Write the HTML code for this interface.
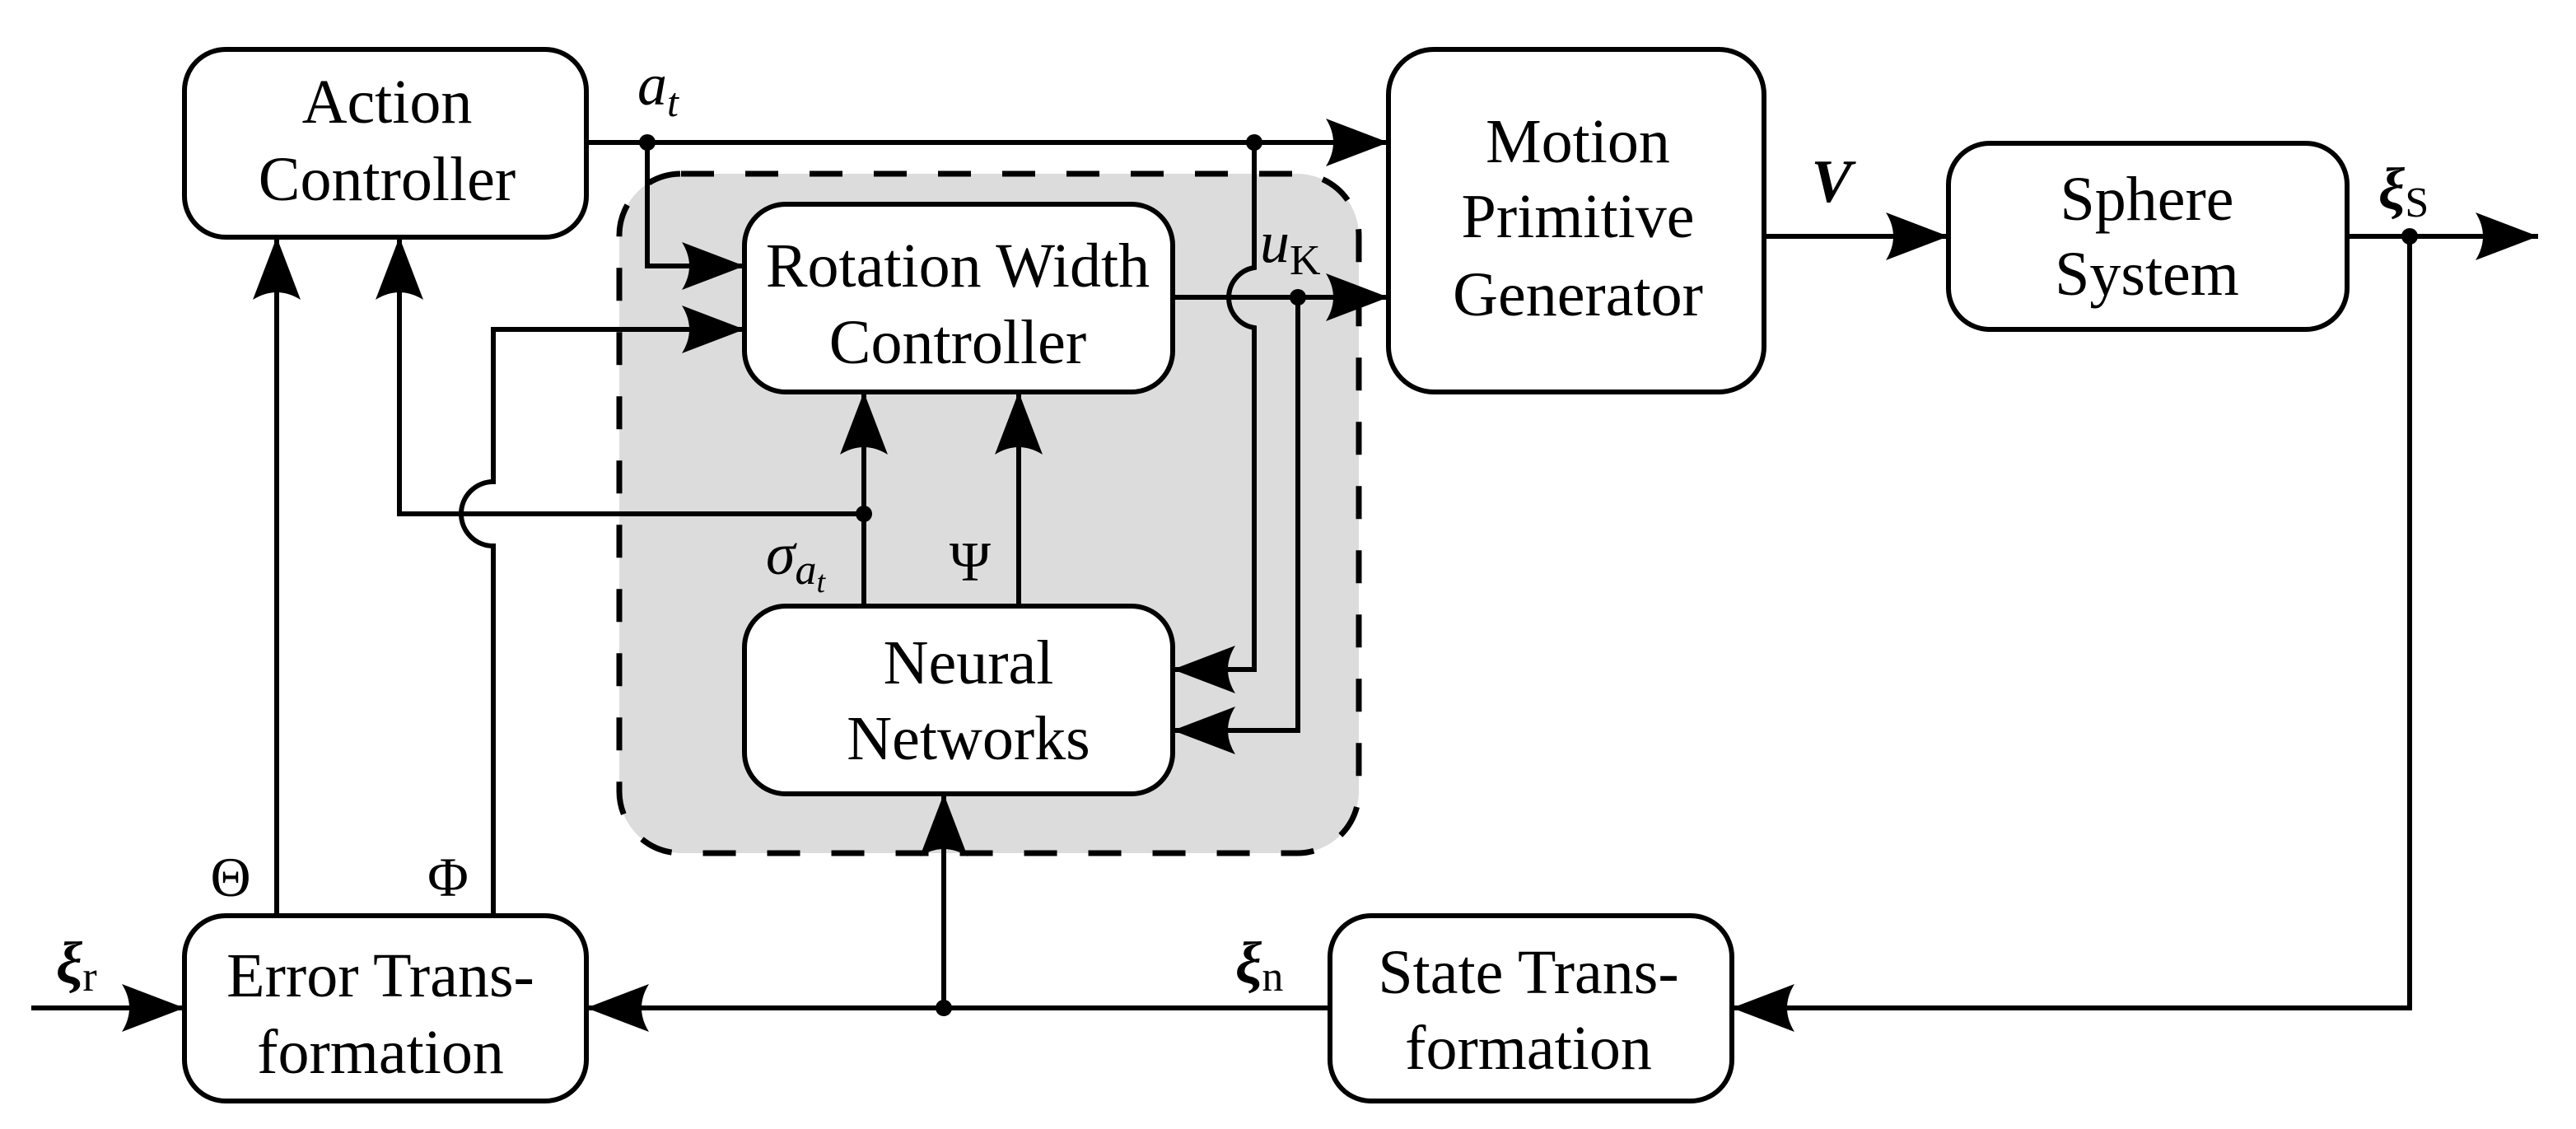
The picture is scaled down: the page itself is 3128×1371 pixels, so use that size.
<!DOCTYPE html>
<html><head><meta charset="utf-8"><style>
html,body{margin:0;padding:0;background:#fff;}
svg{display:block;}
svg text{font-family:"Liberation Serif","Noto Serif CJK SC","DejaVu Serif",serif;fill:#000;}
.t{font-size:76px;text-anchor:middle;}
.m{font-size:72px;font-style:italic;}
</style></head><body>
<svg width="3128" height="1371" viewBox="0 0 3128 1371" xmlns="http://www.w3.org/2000/svg">
<defs>
<marker id="a" markerUnits="userSpaceOnUse" markerWidth="90" markerHeight="80" viewBox="-80 -40 90 80" refX="0" refY="0" orient="auto">
<path d="M0,0 L-76,-29 Q-58,0 -76,29 Z" fill="#000"/>
</marker>
</defs>
<rect x="752" y="211" width="898" height="825" rx="75" fill="#dcdcdc" stroke="#000" stroke-width="7" stroke-dasharray="40,38"/>

<g fill="none" stroke="#000" stroke-width="6">
<rect x="224" y="60" width="488" height="228" rx="50" fill="#fff"/>
<rect x="1686" y="60" width="456" height="416" rx="55" fill="#fff"/>
<rect x="2366" y="174" width="484" height="226" rx="50" fill="#fff"/>
<rect x="904" y="248" width="520" height="228" rx="50" fill="#fff"/>
<rect x="904" y="736" width="520" height="228" rx="50" fill="#fff"/>
<rect x="224" y="1112" width="488" height="225" rx="50" fill="#fff"/>
<rect x="1615" y="1112" width="488" height="225" rx="50" fill="#fff"/>

<path d="M712,173 H1686" marker-end="url(#a)"/>
<path d="M786,173 V323 H904" marker-end="url(#a)"/>
<path d="M1523,173 V325 A37,37 0 0 0 1523,398 V813 H1424" marker-end="url(#a)"/>
<path d="M1424,361 H1686" marker-end="url(#a)"/>
<path d="M1576,361 V887 H1424" marker-end="url(#a)"/>
<path d="M2142,287 H2366" marker-end="url(#a)"/>
<path d="M2850,287 H3082" marker-end="url(#a)"/>
<path d="M2926,287 V1224 H2103" marker-end="url(#a)"/>
<path d="M1615,1224 H712" marker-end="url(#a)"/>
<path d="M1146,1224 V964" marker-end="url(#a)"/>
<path d="M38,1224 H224" marker-end="url(#a)"/>
<path d="M336,1112 V288" marker-end="url(#a)"/>
<path d="M599,1112 V663 A39,39 0 0 1 599,585 V400 H904" marker-end="url(#a)"/>
<path d="M1049,736 V476" marker-end="url(#a)"/>
<path d="M1049,624 H485 V288" marker-end="url(#a)"/>
<path d="M1237,736 V476" marker-end="url(#a)"/>
</g>
<g fill="#000">
<circle cx="786" cy="173" r="10"/>
<circle cx="1523" cy="173" r="10"/>
<circle cx="1576" cy="361" r="10"/>
<circle cx="2926" cy="287" r="10"/>
<circle cx="1146" cy="1224" r="10"/>
<circle cx="1049" cy="624" r="10"/>
</g>

<text class="t" x="470" y="149">Action</text>
<text class="t" x="470" y="243">Controller</text>
<text class="t" x="1916" y="197">Motion</text>
<text class="t" x="1916" y="288">Primitive</text>
<text class="t" x="1916" y="383">Generator</text>
<text class="t" x="2607" y="267">Sphere</text>
<text class="t" x="2607" y="358">System</text>
<text class="t" x="1163" y="348">Rotation Width</text>
<text class="t" x="1163" y="441">Controller</text>
<text class="t" x="1176" y="830">Neural</text>
<text class="t" x="1176" y="922">Networks</text>
<text class="t" x="462" y="1210">Error Trans-</text>
<text class="t" x="462" y="1303">formation</text>
<text class="t" x="1856" y="1206">State Trans-</text>
<text class="t" x="1856" y="1298">formation</text>

<text class="m" x="774" y="127">a<tspan font-size="50" dy="14">t</tspan></text>
<text class="m" x="1530" y="318">u<tspan font-size="52" font-style="normal" dy="15">K</tspan></text>
<text class="m" x="930" y="697">σ<tspan font-size="52" dy="12">a</tspan><tspan font-size="38" dy="10">t</tspan></text>
<text x="1178" y="705" font-size="68" text-anchor="middle">Ψ</text>
<text x="280" y="1088" font-size="68" text-anchor="middle">Θ</text>
<text x="544" y="1088" font-size="68" text-anchor="middle">Φ</text>
<text x="2224" y="245" font-size="74" font-style="italic" font-weight="bold" text-anchor="middle">V</text>
<text x="2888" y="253" font-size="72" font-weight="bold" font-style="italic">ξ<tspan font-size="52" font-weight="normal" font-style="normal" dy="10">S</tspan></text>
<text x="1500" y="1193" font-size="72" font-weight="bold" font-style="italic">ξ<tspan font-size="52" font-weight="normal" font-style="normal" dy="10">n</tspan></text>
<text x="68" y="1193" font-size="72" font-weight="bold" font-style="italic">ξ<tspan font-size="52" font-weight="normal" font-style="normal" dy="10">r</tspan></text>
</svg>
</body></html>
